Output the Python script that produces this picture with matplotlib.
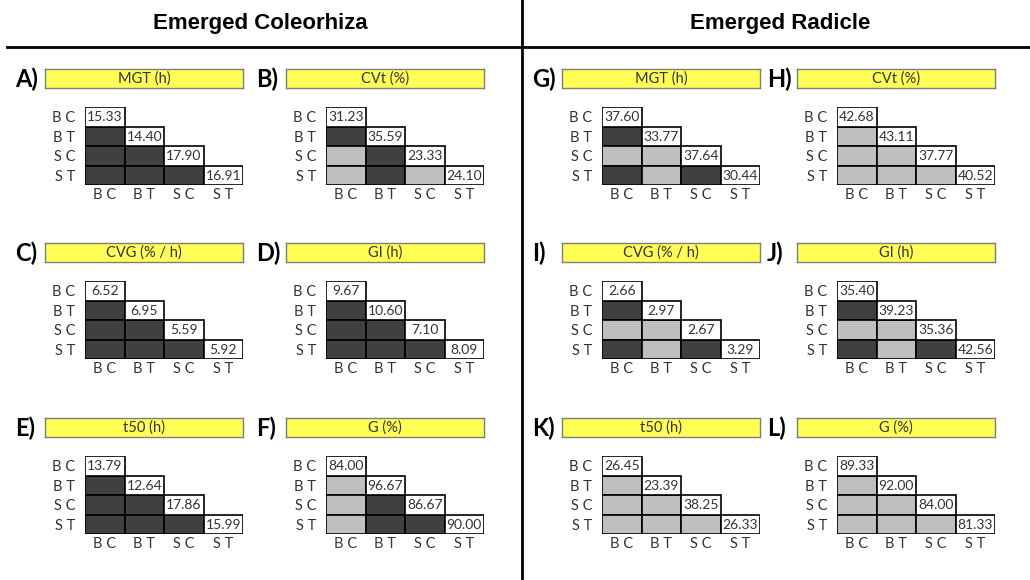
import matplotlib.pyplot as plt
from matplotlib.patches import Rectangle
from matplotlib.lines import Line2D

W, H = 1030, 580

groups = ["B C", "B T", "S C", "S T"]
section_titles = ["Emerged Coleorhiza", "Emerged Radicle"]

letters = ["A)", "B)", "C)", "D)", "E)", "F)",
           "G)", "H)", "I)", "J)", "K)", "L)"]
titles = ["MGT (h)", "CVt (%)", "CVG (% / h)", "GI (h)", "t50 (h)", "G (%)",
          "MGT (h)", "CVt (%)", "CVG (% / h)", "GI (h)", "t50 (h)", "G (%)"]

# diagonal means: BC, BT, SC, ST
means = [
    [15.33, 14.40, 17.90, 16.91],
    [31.23, 35.59, 23.33, 24.10],
    [6.52, 6.95, 5.59, 5.92],
    [9.67, 10.60, 7.10, 8.09],
    [13.79, 12.64, 17.86, 15.99],
    [84.00, 96.67, 86.67, 90.00],
    [37.60, 33.77, 37.64, 30.44],
    [42.68, 43.11, 37.77, 40.52],
    [2.66, 2.97, 2.67, 3.29],
    [35.40, 39.23, 35.36, 42.56],
    [26.45, 23.39, 38.25, 26.33],
    [89.33, 92.00, 84.00, 81.33],
]

# pairwise comparisons below the diagonal, order:
# (BT,BC) (SC,BC) (SC,BT) (ST,BC) (ST,BT) (ST,SC); 1 = significant
signif = [
    [1, 1, 1, 1, 1, 1],
    [1, 0, 1, 0, 1, 0],
    [1, 1, 1, 1, 1, 1],
    [1, 1, 1, 1, 1, 1],
    [1, 1, 1, 1, 1, 1],
    [0, 0, 1, 0, 1, 1],
    [1, 0, 0, 1, 0, 1],
    [0, 0, 0, 0, 0, 0],
    [1, 0, 0, 1, 0, 1],
    [1, 0, 0, 1, 0, 1],
    [0, 0, 0, 0, 0, 0],
    [0, 0, 0, 0, 0, 0],
]
pairs = [(1, 0), (2, 0), (2, 1), (3, 0), (3, 1), (3, 2)]

DARK = "#404040"
LIGHT = "#bfbfbf"
YELLOW = "#ffff55"
TXT = "#333333"
FONT = "Lato"

fig = plt.figure(figsize=(W / 100, H / 100), dpi=100)
fig.patch.set_facecolor("white")


def px_axes(x, y, w, h):
    return fig.add_axes([x / W, 1 - (y + h) / H, w / W, h / H])


# header
fig.text(260 / W, 1 - 24 / H, section_titles[0], ha="center", va="center",
         fontsize=16, fontweight="bold", family="Liberation Sans")
fig.text(780 / W, 1 - 24 / H, section_titles[1], ha="center", va="center",
         fontsize=16, fontweight="bold", family="Liberation Sans")
fig.add_artist(Line2D([7 / W, 1], [1 - 47 / H] * 2, color="black", lw=2))
fig.add_artist(Line2D([522 / W] * 2, [0, 1], color="black", lw=2))

box_x = [45, 286, 562, 797]
box_y = [69, 243, 418]

for k in range(12):
    side, idx = divmod(k, 6)
    row, col = divmod(idx, 2)
    bx = box_x[side * 2 + col]
    by = box_y[row]

    fig.text((bx - 30) / W, 1 - (by + 10) / H, letters[k], ha="left",
             va="center", fontsize=17, fontweight="bold", family=FONT)

    tax = px_axes(bx, by, 198, 19)
    tax.set_facecolor(YELLOW)
    tax.set_xticks([])
    tax.set_yticks([])
    for s in tax.spines.values():
        s.set_color("#7f7f7f")
        s.set_linewidth(1)
    tax.text(0.5, 0.5, titles[k], ha="center", va="center", fontsize=10.5,
             family=FONT, color=TXT, transform=tax.transAxes)

    ax = px_axes(bx + 40, by + 38, 158, 78)
    ax.set_xlim(0, 4)
    ax.set_ylim(4, 0)
    for s in ax.spines.values():
        s.set_visible(False)

    for (i, j), sig in zip(pairs, signif[k]):
        ax.add_patch(Rectangle((j, i), 1, 1, facecolor=DARK if sig else LIGHT,
                               edgecolor="black", lw=1.2))
    for i, v in enumerate(means[k]):
        ax.add_patch(Rectangle((i, i), 1, 1, facecolor="white",
                               edgecolor="black", lw=1.2))
        ax.text(i + 0.5, i + 0.52, f"{v:.2f}", ha="center", va="center",
                fontsize=10, family=FONT, color=TXT)

    ax.set_xticks([0.5, 1.5, 2.5, 3.5])
    ax.set_xticklabels(groups, fontsize=10.5, family=FONT, color=TXT)
    ax.set_yticks([0.5, 1.5, 2.5, 3.5])
    ax.set_yticklabels(groups, fontsize=10.5, family=FONT, color=TXT)
    ax.tick_params(length=0, pad=2)
    ax.tick_params(axis="y", pad=7)

fig.savefig("out.png", dpi=100, facecolor="white")
